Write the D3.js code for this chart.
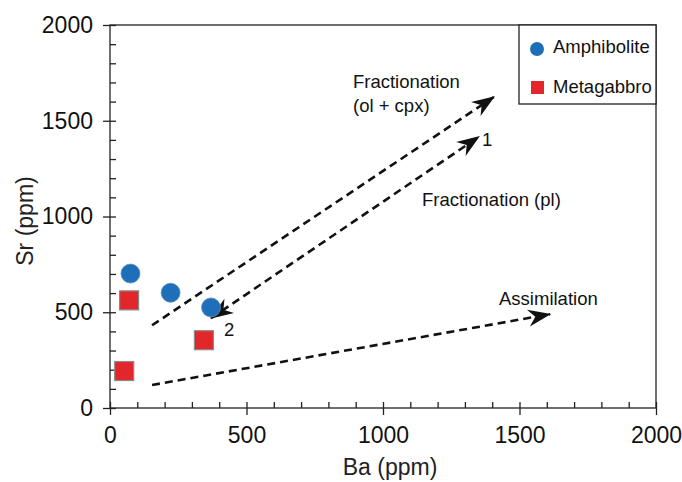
<!DOCTYPE html>
<html><head><meta charset="utf-8">
<script src="https://cdn.jsdelivr.net/npm/d3@7"></script>
<style>body{margin:0;background:#fff}text{font-family:"Liberation Sans",Arial,sans-serif}</style>
</head><body><svg id="c" width="682" height="482"></svg>
<script>
const amphBa = [75, 222, 370];
const amphSr = [702, 602, 525];
const metaBa = [70, 52, 344];
const metaSr = [562, 193, 354];
const majorTicks = [0, 500, 1000, 1500, 2000];
const minorTicks = d3.range(0, 2001, 100);
const arrowFrom = [[154, 432], [370, 469], [154, 120]];
const arrowTo = [[1407, 1625], [1352, 1417], [1612, 490]];
const arrowStartHead = [false, true, false];
const labelText = ["Fractionation", "(ol + cpx)", "1", "Fractionation (pl)", "Assimilation", "2"];
const labelPos = [[890, 1672], [890, 1547], [1363, 1370], [1143, 1057], [1425, 536], [418, 375]];
const legendNames = ["Amphibolite", "Metagabbro"];

const svg = d3.select("#c");
const x = d3.scaleLinear().domain([0, 2000]).range([110, 656]);
const y = d3.scaleLinear().domain([0, 2000]).range([408, 25]);
const FONT = '"Liberation Sans",Arial,sans-serif';

const defs = svg.append("defs");
defs.append("marker").attr("id", "ah").attr("viewBox", "-24 -10 26 20")
  .attr("refX", 0).attr("refY", 0).attr("markerWidth", 26).attr("markerHeight", 20)
  .attr("markerUnits", "userSpaceOnUse").attr("orient", "auto-start-reverse")
  .append("path").attr("d", "M1,0 L-22,-8.5 L-15,0 L-22,8.5 Z").attr("fill", "#111");

// frame
svg.append("rect").attr("x", x(0)).attr("y", y(2000)).attr("width", x(2000) - x(0)).attr("height", y(0) - y(2000))
  .attr("fill", "none").attr("stroke", "#222").attr("stroke-width", 1.3);

// axes
function style(g, fs) {
  g.select(".domain").remove();
  g.selectAll("line").attr("stroke", "#222").attr("stroke-width", 1.3);
  g.selectAll("text").attr("font-size", fs).attr("fill", "#111").attr("font-family", FONT);
}
const gx = svg.append("g").attr("transform", `translate(0,${y(0)})`)
  .call(d3.axisBottom(x).tickValues(majorTicks).tickSize(7).tickPadding(12).tickFormat(d3.format("d")));
style(gx, 23);
const gxIn = svg.append("g").attr("transform", `translate(0,${y(0)})`)
  .call(d3.axisTop(x).tickValues(minorTicks).tickSize(6).tickFormat(""));
style(gxIn, 23);
const gy = svg.append("g").attr("transform", `translate(${x(0)},0)`)
  .call(d3.axisLeft(y).tickValues(majorTicks).tickSize(7).tickPadding(10).tickFormat(d3.format("d")));
style(gy, 23);
const gyIn = svg.append("g").attr("transform", `translate(${x(0)},0)`)
  .call(d3.axisRight(y).tickValues(minorTicks).tickSize(6).tickFormat(""));
style(gyIn, 23);

svg.append("text").attr("x", 390).attr("y", 475).attr("text-anchor", "middle")
  .attr("font-size", 23).attr("fill", "#222").text("Ba (ppm)");
svg.append("text").attr("transform", "translate(33,221) rotate(-90)").attr("text-anchor", "middle")
  .attr("font-size", 23).attr("fill", "#222").text("Sr (ppm)");

// arrows
const ag = svg.append("g");
arrowFrom.forEach((f, i) => {
  const t = arrowTo[i];
  ag.append("line").attr("x1", x(f[0])).attr("y1", y(f[1])).attr("x2", x(t[0])).attr("y2", y(t[1]))
    .attr("stroke", "#111").attr("stroke-width", 2.6).attr("stroke-dasharray", "8,5")
    .attr("marker-end", "url(#ah)")
    .attr("marker-start", arrowStartHead[i] ? "url(#ah)" : null);
});

// labels
labelText.forEach((s, i) => {
  svg.append("text").attr("x", x(labelPos[i][0])).attr("y", y(labelPos[i][1]))
    .attr("font-size", 18.5).attr("fill", "#111").text(s);
});

// points
const pts = svg.append("g");
amphBa.forEach((b, i) => {
  pts.append("circle").attr("cx", x(b)).attr("cy", y(amphSr[i])).attr("r", 9.5)
    .attr("fill", "#1f6fb8").attr("stroke", "#5b8fc4").attr("stroke-width", 0.8);
});
metaBa.forEach((b, i) => {
  pts.append("rect").attr("x", x(b) - 9.5).attr("y", y(metaSr[i]) - 9.5).attr("width", 19).attr("height", 19)
    .attr("fill", "#e3262a").attr("stroke", "#8a8a8a").attr("stroke-width", 1.2);
});

// legend
const lg = svg.append("g");
lg.append("rect").attr("x", 519).attr("y", 25).attr("width", 137).attr("height", 79)
  .attr("fill", "#fff").attr("stroke", "#222").attr("stroke-width", 1.3);
lg.append("circle").attr("cx", 537).attr("cy", 49).attr("r", 7).attr("fill", "#1f6fb8");
lg.append("rect").attr("x", 531).attr("y", 81).attr("width", 13).attr("height", 13).attr("fill", "#e3262a");
lg.append("text").attr("x", 553).attr("y", 53).attr("font-size", 18.5).attr("fill", "#111").text(legendNames[0]);
lg.append("text").attr("x", 553).attr("y", 93).attr("font-size", 18.5).attr("fill", "#111").text(legendNames[1]);
</script></body></html>
